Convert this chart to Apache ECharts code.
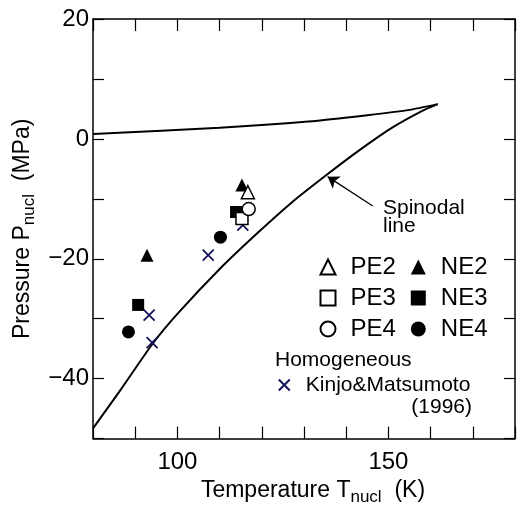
<!DOCTYPE html>
<html>
<head>
<meta charset="utf-8">
<script src="https://cdn.jsdelivr.net/npm/echarts@6/dist/echarts.min.js"></script>
<style>
  html, body { margin: 0; padding: 0; background: #fff; }
  #chart { width: 518px; height: 511px; }
</style>
</head>
<body>
<div id="chart"></div>
<script>
// saturation curve (upper) and spinodal line (lower)
var upperT = [80, 110, 131, 145, 154.6, 161.7]
var upperP = [0.8, 1.85, 2.9, 3.95, 4.8, 5.8]
var spinT = [80, 87, 94, 100, 110.6, 119.3, 127.1, 135, 142.9, 150.7, 157.8, 161.7]
var spinP = [-48.3, -41.4, -34.3, -29.2, -21.3, -15.5, -10.6, -6.2, -2.0, 1.8, 4.6, 5.8]

// measured points
var pe2 = [[116.7, -8.9]]
var pe3 = [[115.3, -13.3]]
var pe4 = [[116.9, -11.7]]
var ne2 = [[115.3, -7.7], [92.8, -19.4]]
var ne3 = [[113.9, -12.2], [90.7, -27.7]]
var ne4 = [[110.2, -16.4], [88.4, -32.2]]
var kinjo = [[115.5, -14.4], [107.3, -19.4], [93.3, -29.4], [94.0, -34.0]]

// arrow pointing at the spinodal line
var arrowFrom = [146.3, -11.2]
var arrowTo = [135.6, -6.3]

var FONT = "'Liberation Sans', Arial, sans-serif"
var NAVY = '#14145a'

function zip(xs, ys) {
  return xs.map(function (x, i) { return [x, ys[i]] })
}

function baseX(pos, showLabel) {
  return {
    type: 'value',
    position: pos,
    min: 80,
    max: 180,
    interval: 10,
    axisLine: { show: true, onZero: false, lineStyle: { color: '#000', width: 1.5 } },
    axisTick: { show: true, inside: true, length: 12, lineStyle: { color: '#000', width: 1.2 } },
    axisLabel: {
      show: showLabel,
      margin: 12,
      color: '#000',
      fontSize: 24,
      fontFamily: FONT,
      formatter: function (v) { return v % 50 === 0 ? String(v) : '' }
    },
    splitLine: { show: false }
  }
}

function baseY(pos, showLabel) {
  return {
    type: 'value',
    position: pos,
    min: -50,
    max: 20,
    interval: 10,
    axisLine: { show: true, onZero: false, lineStyle: { color: '#000', width: 1.5 } },
    axisTick: { show: true, inside: true, length: 11, lineStyle: { color: '#000', width: 1.2 } },
    axisLabel: {
      show: showLabel,
      margin: 4,
      color: '#000',
      fontSize: 24,
      fontFamily: FONT,
      formatter: function (v) {
        if (v % 20 !== 0) return ''
        return v < 0 ? '\u2212' + (-v) : String(v)
      }
    },
    splitLine: { show: false }
  }
}

var nameRich = {
  n: { fontSize: 23, fontFamily: FONT, color: '#000', lineHeight: 30 },
  s: { fontSize: 17, fontFamily: FONT, color: '#000', lineHeight: 17, verticalAlign: 'bottom' }
}

var xBottom = baseX('bottom', true)
xBottom.name = '{n|Temperature T}{s|nucl}{n|  (K)}'
xBottom.nameLocation = 'middle'
xBottom.nameGap = 36
xBottom.nameTextStyle = { color: '#000', fontFamily: FONT, padding: [0, 0, 0, 18], rich: nameRich }

var yLeft = baseY('left', true)
yLeft.name = '{n|Pressure P}{s|nucl}{n|  (MPa)}'
yLeft.nameLocation = 'middle'
yLeft.nameGap = 50
yLeft.nameTextStyle = { color: '#000', fontFamily: FONT, rich: nameRich }

var openStyle = { color: '#fff', borderColor: '#000', borderWidth: 1.5, opacity: 1 }
var solidStyle = { color: '#000', borderColor: '#000', borderWidth: 0, opacity: 1 }
var crossPath = 'path://M0,0L10,10M10,0L0,10'

function scatter(name, data, symbol, size, style, z) {
  return {
    name: name,
    type: 'scatter',
    data: data,
    symbol: symbol,
    symbolSize: size,
    itemStyle: style,
    z: z,
    animation: false
  }
}

function legendCol(names, left, top, fontSize, padLeft, iconSize) {
  return {
    data: names,
    orient: 'vertical',
    left: left,
    top: top,
    padding: 0,
    itemWidth: iconSize,
    itemHeight: iconSize,
    itemGap: 7,
    selectedMode: false,
    textStyle: { color: '#000', fontSize: fontSize, fontFamily: FONT, lineHeight: 24, padding: [0, 0, 0, padLeft] }
  }
}

var chart = echarts.init(document.getElementById('chart'), null, { renderer: 'canvas' })
chart.setOption({
  animation: false,
  grid: { left: 93, right: 1, top: 19, bottom: 69, containLabel: false },
  xAxis: [xBottom, baseX('top', false)],
  yAxis: [yLeft, baseY('right', false)],
  legend: [
    legendCol(['PE2', 'PE3', 'PE4'], 319.5, 255, 24, 10, 15),
    legendCol(['NE2', 'NE3', 'NE4'], 410.8, 255, 24, 10, 15),
    legendCol(['Kinjo&Matsumoto'], 277.8, 373, 21, 11, 11)
  ],
  graphic: [
    { type: 'text', x: 275, y: 360, style: { text: 'Homogeneous', font: '21px ' + FONT, fill: '#000', verticalAlign: 'middle' } },
    { type: 'text', x: 472, y: 407, style: { text: '(1996)', font: '21px ' + FONT, fill: '#000', align: 'right', verticalAlign: 'middle' } },
    { type: 'text', x: 383, y: 217, style: { text: 'Spinodal\nline', font: '21px ' + FONT, fill: '#000', lineHeight: 18, verticalAlign: 'middle' } }
  ],
  series: [
    {
      name: 'upper',
      type: 'line',
      data: zip(upperT, upperP),
      smooth: 0.25,
      showSymbol: false,
      lineStyle: { color: '#000', width: 2 },
      z: 2
    },
    {
      name: 'spinodal',
      type: 'line',
      data: zip(spinT, spinP),
      smooth: 0.25,
      showSymbol: false,
      lineStyle: { color: '#000', width: 2 },
      z: 2
    },
    {
      name: 'arrow',
      type: 'lines',
      coordinateSystem: 'cartesian2d',
      data: [{ coords: [arrowFrom, arrowTo] }],
      symbol: ['none', 'arrow'],
      symbolSize: [0, 11],
      lineStyle: { color: '#000', width: 1.3, opacity: 1 },
      z: 2
    },
    scatter('Kinjo&Matsumoto', kinjo, crossPath, 11, { color: NAVY, borderColor: NAVY, borderWidth: 1.8, opacity: 1 }, 3),
    scatter('NE2', ne2, 'triangle', 13, solidStyle, 4),
    scatter('NE3', ne3, 'rect', 12, solidStyle, 4),
    scatter('NE4', ne4, 'circle', 13, solidStyle, 4),
    scatter('PE2', pe2, 'triangle', 13, openStyle, 5),
    scatter('PE3', pe3, 'rect', 12, openStyle, 5),
    scatter('PE4', pe4, 'circle', 13, openStyle, 5)
  ]
})
</script>
</body>
</html>
